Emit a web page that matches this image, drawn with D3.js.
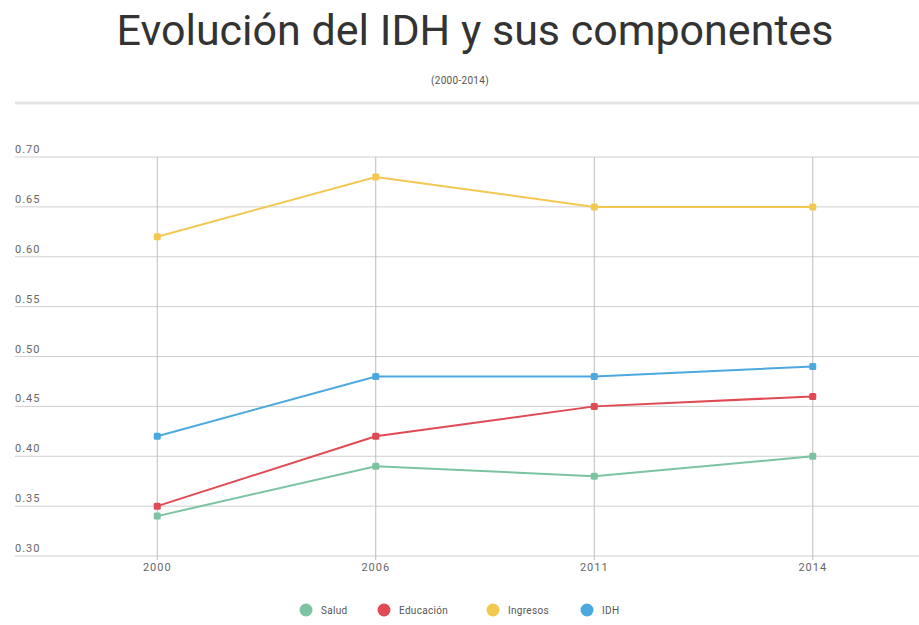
<!DOCTYPE html>
<html>
<head>
<meta charset="utf-8">
<script src="https://d3js.org/d3.v7.min.js"></script>
<style>
	body { margin: 0; background: #fff; }
	svg { font-family: Roboto, sans-serif; }
</style>
</head>
<body>
<svg id="chart" width="919" height="625"></svg>
<script>
var years = ["2000", "2006", "2011", "2014"];
var salud = [0.34, 0.39, 0.38, 0.40];
var educacion = [0.35, 0.42, 0.45, 0.46];
var ingresos = [0.62, 0.68, 0.65, 0.65];
var idh = [0.42, 0.48, 0.48, 0.49];
var yTicks = [0.30, 0.35, 0.40, 0.45, 0.50, 0.55, 0.60, 0.65, 0.70];

var series = [
	{ name: "Salud", values: salud, color: "#7bc3a2" },
	{ name: "Educación", values: educacion, color: "#df4a53" },
	{ name: "Ingresos", values: ingresos, color: "#f3c851" },
	{ name: "IDH", values: idh, color: "#4ba9df" }
];

var svg = d3.select("#chart"),
	width = +svg.attr("width");

// title
svg.append("text")
	.attr("x", 475)
	.attr("y", 45)
	.attr("text-anchor", "middle")
	.attr("font-size", 43)
	.attr("fill", "#333")
	.text("Evolución del IDH y sus componentes");

svg.append("text")
	.attr("x", 460)
	.attr("y", 84)
	.attr("text-anchor", "middle")
	.attr("font-size", 10)
	.attr("letter-spacing", 0.3)
	.attr("fill", "#555")
	.text("(2000-2014)");

svg.append("line")
	.attr("x1", 15).attr("x2", width)
	.attr("y1", 103).attr("y2", 103)
	.attr("stroke", "#e4e4e4")
	.attr("stroke-width", 3);

var x = d3.scalePoint()
	.domain(years)
	.range([48, 922])
	.padding(0.5);

var y = d3.scaleLinear()
	.domain([0.30, 0.70])
	.range([556, 157]);

// horizontal grid
var grid = svg.append("g");
grid.selectAll("line.h")
	.data(yTicks)
	.enter().append("line")
		.attr("class", "h")
		.attr("x1", 15).attr("x2", width)
		.attr("y1", function(d) { return y(d); })
		.attr("y2", function(d) { return y(d); })
		.attr("stroke", "#cfcfcf")
		.attr("stroke-width", 1);

grid.selectAll("text.yl")
	.data(yTicks)
	.enter().append("text")
		.attr("class", "yl")
		.attr("x", 15)
		.attr("y", function(d) { return y(d) - 4; })
		.attr("font-size", 11)
		.attr("letter-spacing", 1)
		.attr("fill", "#666")
		.text(function(d) { return d3.format(".2f")(d); });

// vertical grid
grid.selectAll("line.v")
	.data(years)
	.enter().append("line")
		.attr("class", "v")
		.attr("x1", function(d) { return x(d); })
		.attr("x2", function(d) { return x(d); })
		.attr("y1", y(0.70)).attr("y2", y(0.30) + 4)
		.attr("stroke", "#bdbdbd")
		.attr("stroke-width", 1);

grid.selectAll("text.xl")
	.data(years)
	.enter().append("text")
		.attr("class", "xl")
		.attr("x", function(d) { return x(d); })
		.attr("y", 571)
		.attr("text-anchor", "middle")
		.attr("font-size", 11)
		.attr("letter-spacing", 1)
		.attr("fill", "#666")
		.text(function(d) { return d; });

// lines
var line = d3.line()
	.x(function(d, i) { return x(years[i]); })
	.y(function(d) { return y(d); });

var sg = svg.append("g")
	.selectAll("g")
	.data(series)
	.enter().append("g");

sg.append("path")
	.attr("d", function(d) { return line(d.values); })
	.attr("fill", "none")
	.attr("stroke", function(d) { return d.color; })
	.attr("stroke-width", 2);

sg.selectAll("rect")
	.data(function(d) { return d.values.map(function(v, i) { return { v: v, i: i, color: d.color }; }); })
	.enter().append("rect")
		.attr("x", function(d) { return x(years[d.i]) - 3.5; })
		.attr("y", function(d) { return y(d.v) - 3.5; })
		.attr("width", 7)
		.attr("height", 7)
		.attr("rx", 1.5)
		.attr("fill", function(d) { return d.color; });

// legend
var legendX = [306, 384, 493, 587];
var legend = svg.append("g")
	.selectAll("g")
	.data(series)
	.enter().append("g")
		.attr("transform", function(d, i) { return "translate(" + legendX[i] + ",610)"; });

legend.append("circle")
	.attr("r", 6.5)
	.attr("fill", function(d) { return d.color; });

legend.append("text")
	.attr("x", 15)
	.attr("dy", "0.35em")
	.attr("font-size", 10)
	.attr("letter-spacing", 0.3)
	.attr("fill", "#555")
	.text(function(d) { return d.name; });
</script>
</body>
</html>
